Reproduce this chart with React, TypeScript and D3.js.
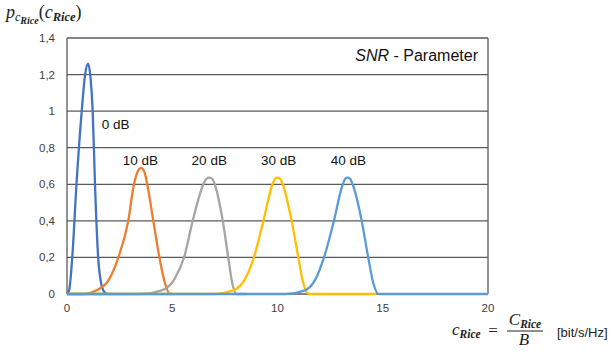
import React from "react";
import * as d3 from "d3";

const xTicks = [0, 5, 10, 15, 20];
const yTicks = [0, 0.2, 0.4, 0.6, 0.8, 1, 1.2, 1.4];
const yTickLabels = ["0", "0,2", "0,4", "0,6", "0,8", "1", "1,2", "1,4"];

const snrNames = ["0 dB", "10 dB", "20 dB", "30 dB", "40 dB"];
const snrColors = ["#4472C4", "#ED7D31", "#A5A5A5", "#FFC000", "#5B9BD5"];

const x0dB = [0, 0.1, 0.25, 0.45, 0.7, 0.86, 1.0, 1.12, 1.22, 1.33, 1.48, 1.62, 1.78, 1.95];
const y0dB = [0, 0.02, 0.2, 0.6, 1.0, 1.2, 1.26, 1.18, 1.0, 0.6, 0.2, 0.06, 0.01, 0];

const x10dB = [0, 0.8, 1.4, 2.0, 2.44, 2.91, 3.18, 3.36, 3.52, 3.67, 3.81, 4.1, 4.39, 4.65, 4.9, 5.0];
const y10dB = [0, 0, 0.02, 0.08, 0.2, 0.4, 0.6, 0.67, 0.69, 0.67, 0.6, 0.4, 0.2, 0.06, 0, 0];

const x20dB = [0, 3.5, 4.5, 5.1, 5.56, 5.97, 6.48, 6.62, 6.76, 6.9, 7.02, 7.4, 7.66, 7.85, 8.05, 8.5];
const y20dB = [0, 0, 0.02, 0.08, 0.2, 0.4, 0.6, 0.63, 0.636, 0.63, 0.6, 0.4, 0.2, 0.06, 0, 0];

const x30dB = [0, 7.0, 7.9, 8.45, 8.88, 9.33, 9.76, 9.88, 10.0, 10.12, 10.25, 10.67, 10.99, 11.2, 11.5, 14.7];
const y30dB = [0, 0, 0.02, 0.08, 0.2, 0.4, 0.6, 0.63, 0.636, 0.63, 0.6, 0.4, 0.2, 0.07, 0, 0];

const x40dB = [0, 10.4, 11.3, 11.8, 12.21, 12.68, 13.1, 13.22, 13.33, 13.45, 13.57, 14.0, 14.31, 14.55, 14.8, 20];
const y40dB = [0, 0, 0.02, 0.08, 0.2, 0.4, 0.6, 0.63, 0.636, 0.63, 0.6, 0.4, 0.2, 0.06, 0, 0];

const seriesX = [x0dB, x10dB, x20dB, x30dB, x40dB];
const seriesY = [y0dB, y10dB, y20dB, y30dB, y40dB];
const labelPos: [number, number][] = [
  [1.65, 0.9],
  [2.65, 0.705],
  [5.92, 0.705],
  [9.22, 0.705],
  [12.53, 0.705],
];

export default function App() {
  const W = 613, H = 358;
  const x = d3.scaleLinear().domain([0, 20]).range([67, 488]);
  const y = d3.scaleLinear().domain([0, 1.4]).range([294, 38]);
  const line = d3
    .line<[number, number]>()
    .x((d) => x(d[0]))
    .y((d) => y(d[1]))
    .curve(d3.curveMonotoneX);
  const sans = "'Liberation Sans', Arial, sans-serif";
  const serif = "'Liberation Serif', 'DejaVu Serif', serif";
  const grid = "#5a5a5a";

  return (
    <svg width={W} height={H} style={{ position: "absolute", left: 0, top: 0, background: "#fff" }}>
      {/* gridlines */}
      {yTicks.map((t) => (
        <line key={t} x1={x(0)} x2={x(20)} y1={y(t)} y2={y(t)} stroke={grid} strokeWidth={1.3} />
      ))}
      <line x1={x(0)} x2={x(0)} y1={y(0)} y2={y(1.4)} stroke={grid} strokeWidth={1.3} />
      <line x1={x(20)} x2={x(20)} y1={y(0)} y2={y(1.4)} stroke={grid} strokeWidth={1.3} />

      {/* curves */}
      {seriesX.map((xs, i) => (
        <path
          key={i}
          d={line(xs.map((v, j) => [v, seriesY[i][j]] as [number, number])) || ""}
          fill="none"
          stroke={snrColors[i]}
          strokeWidth={2.3}
          strokeLinejoin="round"
        />
      ))}

      {/* tick labels */}
      {yTicks.map((t, i) => (
        <text key={t} x={55} y={y(t)} dy="0.35em" textAnchor="end" fontFamily={sans} fontSize={11.5} fill="#404040">
          {yTickLabels[i]}
        </text>
      ))}
      {xTicks.map((t) => (
        <text key={t} x={x(t)} y={308} dy="0.35em" textAnchor="middle" fontFamily={sans} fontSize={11.5} fill="#404040">
          {t}
        </text>
      ))}

      {/* curve labels */}
      {snrNames.map((n, i) => (
        <text key={n} x={x(labelPos[i][0])} y={y(labelPos[i][1])} fontFamily={sans} fontSize={13.5} fill="#111">
          {n}
        </text>
      ))}

      {/* legend title */}
      <text x={478} y={61} textAnchor="end" fontFamily={sans} fontSize={16} fill="#111">
        <tspan fontStyle="italic">SNR</tspan> - Parameter
      </text>

      {/* y axis title */}
      <text x={6} y={18} fontFamily={serif} fontStyle="italic" fontSize={18} fill="#222">
        p
        <tspan fontSize={12} dy={3}>c</tspan>
        <tspan fontSize={10} dy={3} fontWeight="bold">Rice</tspan>
        <tspan fontSize={18} dy={-6} fontStyle="normal">(</tspan>
        <tspan fontSize={18}>c</tspan>
        <tspan fontSize={12.5} dy={3} fontWeight="bold">Rice</tspan>
        <tspan fontSize={18} dy={-3} fontStyle="normal">)</tspan>
      </text>

      {/* x axis title */}
      <text x={452} y={335} fontFamily={serif} fontStyle="italic" fontSize={17} fill="#222">
        c<tspan fontSize={11.5} dy={3} fontWeight="bold">Rice</tspan>
      </text>
      <text x={493} y={336} textAnchor="middle" fontFamily={serif} fontSize={17} fill="#222">=</text>
      <text x={525} y={325} textAnchor="middle" fontFamily={serif} fontStyle="italic" fontSize={17} fill="#222">
        C<tspan fontSize={11.5} dy={3} fontWeight="bold">Rice</tspan>
      </text>
      <line x1={507} x2={543} y1={331} y2={331} stroke="#222" strokeWidth={1} />
      <text x={524} y={345} textAnchor="middle" fontFamily={serif} fontStyle="italic" fontSize={17} fill="#222">B</text>
      <text x={557} y={332} dy="0.35em" fontFamily={sans} fontSize={13} fill="#222">[bit/s/Hz]</text>
    </svg>
  );
}
